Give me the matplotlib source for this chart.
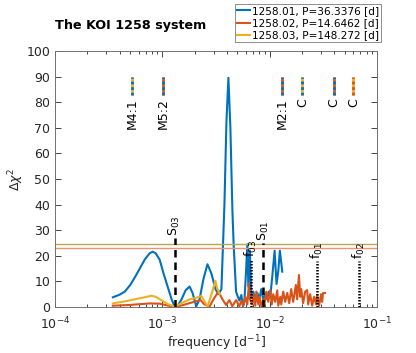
import numpy as np
import matplotlib
matplotlib.use("Agg")
import matplotlib.pyplot as plt

# ---------------- data ----------------
blue_f = [0.000346, 0.000400, 0.000447, 0.000500, 0.000553, 0.000616, 0.000685, 0.000762,
          0.000813, 0.000867, 0.000944, 0.001028, 0.00112, 0.00122, 0.0013, 0.001387,
          0.001511, 0.001646, 0.001793, 0.001912, 0.00207, 0.002221, 0.002418, 0.002634,
          0.00287, 0.003126, 0.003333, 0.003553, 0.003789, 0.003954, 0.004126, 0.004306,
          0.004494, 0.004621, 0.004866, 0.005002, 0.00522, 0.005448, 0.00563, 0.00581,
          0.00599, 0.006194, 0.00633, 0.00654, 0.006748, 0.007041, 0.007349, 0.00767,
          0.008004, 0.008356, 0.008721, 0.009104, 0.009499, 0.00981, 0.01013, 0.01058,
          0.01112, 0.01159, 0.01203, 0.01245, 0.0131]
blue_v = [3.8, 4.8, 6.0, 8.5, 11.5, 15.0, 18.5, 21.0,
          21.6, 21.0, 18.5, 13.0, 8.0, 3.0, 0.2, 0.5,
          3.0, 6.5, 8.0, 5.5, 0.3, 3.0, 11.0, 16.7,
          13.0, 7.0, 5.0, 7.0, 40.0, 72.0, 89.5, 70.0,
          38.0, 24.0, 6.0, 4.5, 2.5, 4.7, 0.3, 2.0,
          12.0, 24.5, 8.0, 22.0, 3.5, 6.0, 2.0, 5.5,
          3.0, 7.0, 2.7, 5.0, 3.0, 6.0, 4.0, 12.0,
          22.0, 9.0, 14.0, 22.0, 13.8]

red_f = [0.000346, 0.000497, 0.000762, 0.000944, 0.00112, 0.0013, 0.001511, 0.001793,
         0.00207, 0.00227, 0.00247, 0.002749, 0.002995, 0.003333, 0.00363, 0.003929,
         0.004216, 0.00449, 0.00487, 0.00522, 0.005448, 0.005687, 0.005935, 0.006194,
         0.0064, 0.00655, 0.00689, 0.007041, 0.007349, 0.00751, 0.00784, 0.008004,
         0.008356, 0.008721, 0.00891, 0.0093, 0.00972, 0.01013, 0.01046, 0.0108,
         0.01127, 0.01177, 0.01203, 0.01255, 0.01282, 0.01338, 0.01396, 0.01457,
         0.01521, 0.01587, 0.01656, 0.01755, 0.01804, 0.01874, 0.01924, 0.01965,
         0.02051, 0.02141, 0.02234, 0.02283, 0.02383, 0.02487, 0.02596, 0.02709,
         0.02767, 0.02888, 0.03014, 0.0308, 0.03146, 0.03283]
red_v = [0.5, 0.8, 1.4, 1.3, 0.6, 0.05, 0.6, 1.5,
         2.2, 2.7, 1.0, 0.1, 3.0, 6.0, 3.0, 0.8,
         2.7, 0.3, 2.7, 0.3, 2.5, 0.5, 4.0, 1.0,
         9.0, 3.0, 1.0, 5.0, 0.5, 6.0, 1.0, 4.0,
         0.3, 3.0, 0.5, 6.0, 2.0, 6.6, 1.0, 5.0,
         2.0, 6.5, 0.5, 4.0, 1.0, 6.0, 2.0, 5.5,
         1.5, 7.0, 2.0, 8.6, 3.0, 12.5, 4.0, 7.0,
         1.5, 6.0, 6.6, 1.0, 5.0, 0.5, 4.0, 1.0,
         4.7, 0.5, 5.0, 2.0, 5.5, 5.5]

yel_f = [0.000346, 0.000447, 0.000553, 0.000685, 0.00079, 0.000867, 0.000986, 0.00112,
         0.0013, 0.001511, 0.001793, 0.00207, 0.00231, 0.00245, 0.002634, 0.00287,
         0.003126, 0.00323, 0.00342]
yel_v = [1.4, 2.2, 3.0, 3.8, 4.4, 4.0, 2.6, 1.2,
         0.1, 1.5, 3.0, 3.6, 4.3, 2.5, 0.1, 5.0,
         10.2, 7.5, 5.0]

series_labels = ["1258.01, P=36.3376 [d]", "1258.02, P=14.6462 [d]", "1258.03, P=148.272 [d]"]

# threshold lines
thr_values = [24.5, 23.0]

# characteristic frequencies (vertical black lines)
orb_names = [r"f$_{01}$", r"f$_{02}$", r"f$_{03}$"]
orb_freqs = [1 / 36.3376, 1 / 14.6462, 1 / 148.272]
orb_tops = [18.0, 18.0, 18.8]
syn_names = [r"S$_{01}$", r"S$_{03}$"]
syn_freqs = [0.00867, 0.0013]
syn_tops = [25.0, 27.0]

# resonance markers
res_names = ["M4:1", "M5:2", "M2:1", "C", "C", "C"]
res_freqs = [0.000527, 0.00102, 0.0130, 0.0202, 0.0398, 0.0601]
res_pairs = [(2, 0), (1, 0), (1, 0), (2, 0), (1, 0), (2, 1)]

# ---------------- style ----------------
colors = ["#0072BD", "#D95319", "#EDB120"]
thr_colors = ["#b5a84e", "#f09074"]
axcol = "#262626"

fig = plt.figure(figsize=(4.16, 3.53), dpi=100)
ax = fig.add_axes([55 / 416, 1 - 307 / 353, (377 - 55) / 416, (307 - 51) / 353])

for f, v, c, lab in zip([blue_f, red_f, yel_f], [blue_v, red_v, yel_v], colors, series_labels):
    ax.plot(f, v, color=c, lw=1.5, label=lab)

for val, c in zip(thr_values, thr_colors):
    ax.axhline(val, color=c, lw=1.0)

for name, f, top in zip(syn_names, syn_freqs, syn_tops):
    ax.plot([f, f], [0, top], color="k", lw=1.8, ls=(0, (3, 2)))
    ax.text(f, top + 0.8, name, rotation=90, ha="center", va="bottom", fontsize=9)

for name, f, top in zip(orb_names, orb_freqs, orb_tops):
    ax.plot([f, f], [0, top], color="k", lw=1.8, ls=(0, (0.6, 0.6)))
    ax.text(f, top + 0.8, name, rotation=90, ha="center", va="bottom", fontsize=9)

for name, f, (c1, c2) in zip(res_names, res_freqs, res_pairs):
    ax.plot([f, f], [83, 90], color=colors[c1], lw=2.0, solid_capstyle="butt")
    ax.plot([f, f], [83, 90], color=colors[c2], lw=2.0, ls=(0, (1, 1)), dash_capstyle="butt")
    ax.text(f, 81.5, name, rotation=90, ha="center", va="top", fontsize=9)

ax.set_xscale("log")
ax.set_xlim(1e-4, 1e-1)
ax.set_ylim(0, 100)
ax.set_yticks(np.arange(0, 101, 10))
ax.tick_params(which="both", direction="in", top=True, right=True, colors=axcol,
               labelsize=9, width=0.6)
ax.tick_params(which="major", length=4)
ax.tick_params(which="minor", length=2)
ax.tick_params(axis="x", which="major", pad=6)
for s in ax.spines.values():
    s.set_color("#707070")
    s.set_linewidth(0.7)

ax.set_xlabel(r"frequency [d$^{-1}$]", fontsize=9, color=axcol, labelpad=1)
ax.set_ylabel(r"$\Delta\chi^2$", fontsize=9, color=axcol, labelpad=0)

fig.text(55 / 416, 1 - 25 / 353, "The KOI 1258 system", fontsize=9.2, fontweight="bold",
         ha="left", va="center")

leg = fig.legend(loc="upper right", bbox_to_anchor=(381 / 416, 1 - 4 / 353), fontsize=7.6,
                 frameon=True, fancybox=False, handlelength=1.2, handletextpad=0.2,
                 labelspacing=0.2, borderpad=0.2, borderaxespad=0)
leg.get_frame().set_edgecolor("#707070")
leg.get_frame().set_linewidth(0.7)

fig.savefig("out.png", dpi=100)
